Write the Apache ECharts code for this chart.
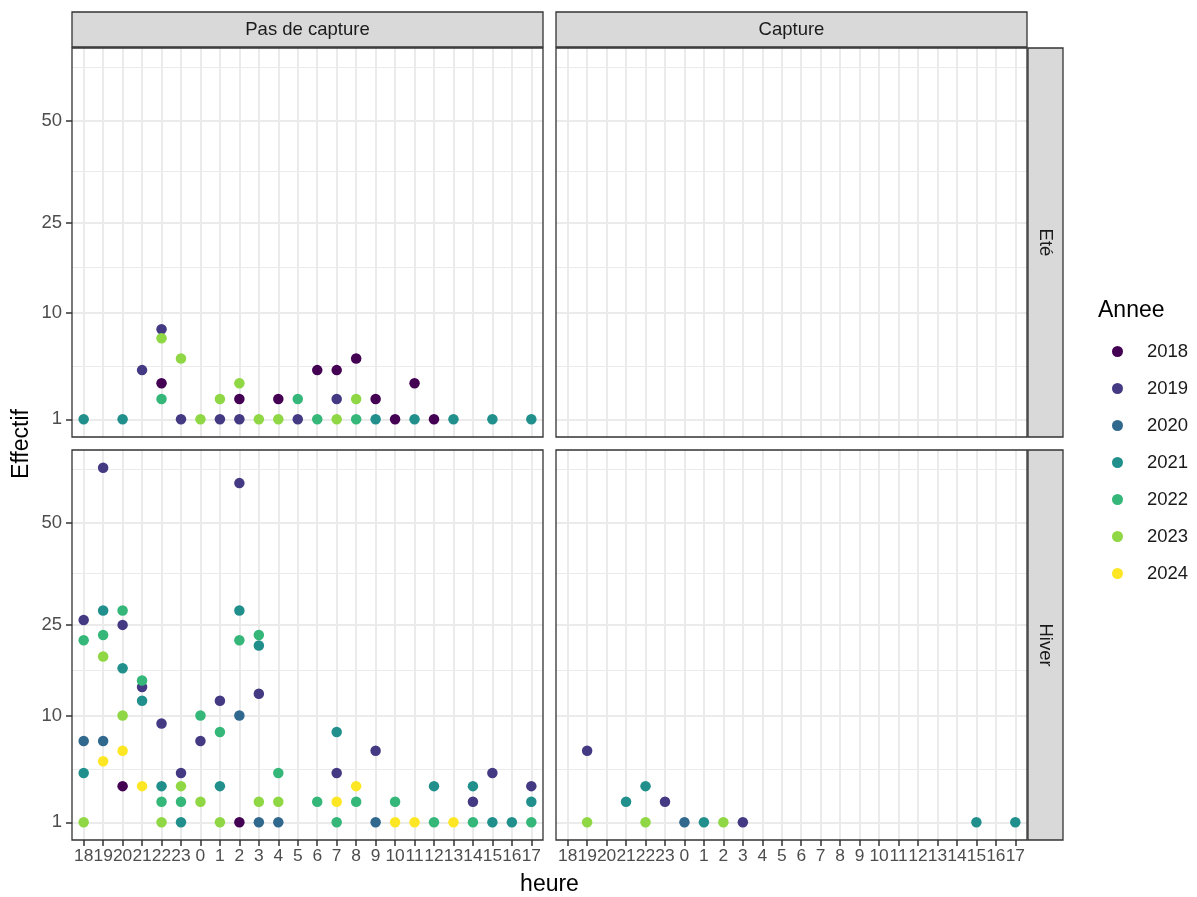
<!DOCTYPE html>
<html>
<head>
<meta charset="utf-8">
<script src="https://cdn.jsdelivr.net/npm/echarts@6/dist/echarts.min.js"></script>
<style>
  html, body { margin: 0; padding: 0; background: #fff; }
  #chart { width: 1197px; height: 897px; }
</style>
</head>
<body>
<div id="chart"></div>
<script>
// Hour categories, in the order they appear along the x axis
const hours = ['18','19','20','21','22','23','0','1','2','3','4','5','6','7','8','9','10','11','12','13','14','15','16','17'];
const years = ['2018','2019','2020','2021','2022','2023','2024'];
const yearColors = ['#440154','#443A83','#31688E','#21908C','#35B779','#8FD744','#FDE725'];
const yBreaks = [1, 10, 25, 50];
const colFacets = ['Pas de capture', 'Capture'];
const rowFacets = ['Eté', 'Hiver'];

// Counts per facet: [heure, annee, effectif]
const eteSansCapture = [
  [18,2021,1],[20,2021,1],[21,2019,4],[22,2019,8],[22,2023,7],[22,2018,3],[22,2022,2],
  [23,2023,5],[23,2019,1],[0,2023,1],[1,2023,2],[1,2019,1],[2,2023,3],[2,2018,2],[2,2019,1],
  [3,2023,1],[4,2018,2],[4,2023,1],[5,2022,2],[5,2019,1],[6,2018,4],[6,2022,1],
  [7,2018,4],[7,2019,2],[7,2023,1],[8,2018,5],[8,2023,2],[8,2022,1],[9,2018,2],[9,2021,1],
  [10,2018,1],[11,2018,3],[11,2021,1],[12,2018,1],[13,2021,1],[15,2021,1],[17,2021,1]
];
const eteCapture = [];
const hiverSansCapture = [
  [18,2019,26],[18,2022,22],[18,2020,7],[18,2021,4],[18,2023,1],
  [19,2019,67],[19,2021,28],[19,2022,23],[19,2023,19],[19,2020,7],[19,2024,5],
  [20,2022,28],[20,2019,25],[20,2021,17],[20,2023,10],[20,2024,6],[20,2018,3],
  [21,2022,15],[21,2019,14],[21,2021,12],[21,2024,3],
  [22,2019,9],[22,2021,3],[22,2022,2],[22,2023,1],
  [23,2019,4],[23,2023,3],[23,2022,2],[23,2021,1],
  [0,2022,10],[0,2019,7],[0,2023,2],
  [1,2019,12],[1,2022,8],[1,2021,3],[1,2023,1],
  [2,2019,62],[2,2021,28],[2,2022,22],[2,2020,10],[2,2018,1],
  [3,2022,23],[3,2021,21],[3,2019,13],[3,2023,2],[3,2020,1],
  [4,2022,4],[4,2023,2],[4,2020,1],
  [6,2022,2],
  [7,2021,8],[7,2019,4],[7,2024,2],[7,2022,1],
  [8,2024,3],[8,2022,2],
  [9,2019,6],[9,2020,1],
  [10,2022,2],[10,2024,1],
  [11,2024,1],
  [12,2021,3],[12,2022,1],
  [13,2024,1],
  [14,2021,3],[14,2019,2],[14,2022,1],
  [15,2019,4],[15,2021,1],
  [16,2021,1],
  [17,2019,3],[17,2021,2],[17,2022,1]
];
const hiverCapture = [
  [19,2019,6],[19,2023,1],[21,2021,2],[22,2021,3],[22,2023,1],[23,2019,2],
  [0,2020,1],[1,2021,1],[2,2023,1],[3,2019,1],[15,2021,1],[17,2021,1]
];

// Panels: row-major (Eté row, then Hiver row)
const panelData = [eteSansCapture, eteCapture, hiverSansCapture, hiverCapture];

// Layout of the facet grid (pixels)
const FONT = 'Liberation Sans, Arial, sans-serif';
const SMALL = 18.5, TITLE = 23, XLAB = 17.4;
const panelLeft = [72, 556];
const panelWidth = 471;
const panelTop = [48, 450];
const panelHeight = [389, 390];
const stripSize = 35;
const stripGap = 1;

// sqrt scale: values are placed on sqrt(effectif), ticks labelled in original units
const sq = v => Math.sqrt(v);
const allVals = panelData.flat().map(d => d[2]);
const sMin = sq(Math.min(...allVals));
const sMax = sq(Math.max(...allVals));
const sPad = 0.05 * (sMax - sMin);
const yLo = sMin - sPad, yHi = sMax + sPad;
const yMajor = yBreaks.map(sq);
// minor lines half-way between majors (transformed space), extended one step beyond
const yMinor = [];
{
  const b = yMajor.slice();
  const bd = b[1] - b[0];
  if (yLo < b[0]) b.unshift(b[0] - bd);
  if (yHi > b[b.length - 1]) b.push(b[b.length - 1] + bd);
  for (let i = 0; i < b.length - 1; i++) {
    const m = (b[i] + b[i + 1]) / 2;
    if (m > yLo && m < yHi) yMinor.push(m);
  }
}
const xPos = hours.map((h, i) => i + 1);
const xLo = 0.4, xHi = hours.length + 0.6;

const grids = [], xAxes = [], yAxes = [], series = [], graphics = [];
const GRID_COLOR = '#EBEBEB';

for (let r = 0; r < 2; r++) {
  for (let c = 0; c < 2; c++) {
    const p = r * 2 + c;
    grids.push({ left: panelLeft[c], top: panelTop[r], width: panelWidth, height: panelHeight[r], containLabel: false });
    const bottomRow = r === 1, leftCol = c === 0;
    xAxes.push({
      type: 'value', gridIndex: p, min: xLo, max: xHi,
      axisLine: { show: false }, splitLine: { show: false },
      axisTick: { show: bottomRow, customValues: xPos, length: 6, lineStyle: { color: '#333333', width: 1.5 } },
      axisLabel: { show: bottomRow, customValues: xPos, formatter: v => hours[Math.round(v) - 1],
        showMinLabel: true, showMaxLabel: true, hideOverlap: false,
        color: '#4D4D4D', fontSize: XLAB, fontFamily: FONT, margin: 8 }
    });
    yAxes.push({
      type: 'value', gridIndex: p, min: yLo, max: yHi,
      axisLine: { show: false }, splitLine: { show: false },
      axisTick: { show: leftCol, customValues: yMajor, length: 6, lineStyle: { color: '#333333', width: 1.5 } },
      axisLabel: { show: leftCol, customValues: yMajor, formatter: v => String(Math.round(v * v)),
        showMinLabel: true, showMaxLabel: true,
        color: '#4D4D4D', fontSize: SMALL, fontFamily: FONT, margin: 10 }
    });
    // panel grid lines
    const lines = [];
    yMinor.forEach(v => lines.push({ yAxis: v, lineStyle: { color: GRID_COLOR, width: 1, type: 'solid' } }));
    yMajor.forEach(v => lines.push({ yAxis: v, lineStyle: { color: GRID_COLOR, width: 2, type: 'solid' } }));
    xPos.forEach(v => lines.push({ xAxis: v, lineStyle: { color: GRID_COLOR, width: 2, type: 'solid' } }));
    series.push({
      type: 'scatter', name: 'grille', xAxisIndex: p, yAxisIndex: p, data: [], z: 1, silent: true,
      markLine: { z: 1, silent: true, symbol: ['none', 'none'], label: { show: false }, animation: false, data: lines }
    });
    // points, one series per year
    years.forEach((y, k) => {
      const pts = panelData[p].filter(d => String(d[1]) === y)
        .map(d => [hours.indexOf(String(d[0])) + 1, sq(d[2]), d[2]]);
      series.push({
        type: 'scatter', name: y, xAxisIndex: p, yAxisIndex: p, data: pts,
        symbol: 'circle', symbolSize: 10.5, z: 10,
        itemStyle: { color: yearColors[k], opacity: 1 }
      });
    });
    // panel border
    graphics.push({ type: 'rect', z: 100, silent: true,
      shape: { x: panelLeft[c], y: panelTop[r], width: panelWidth, height: panelHeight[r] },
      style: { fill: 'none', stroke: '#333333', lineWidth: 1.3 } });
  }
}

// column strips
colFacets.forEach((t, c) => {
  graphics.push({ type: 'rect', z: 100, silent: true,
    shape: { x: panelLeft[c], y: panelTop[0] - stripGap - stripSize, width: panelWidth, height: stripSize },
    style: { fill: '#D9D9D9', stroke: '#333333', lineWidth: 1.3 } });
  graphics.push({ type: 'text', z: 101, silent: true,
    x: panelLeft[c] + panelWidth / 2, y: panelTop[0] - stripGap - stripSize / 2,
    style: { text: t, fill: '#1A1A1A', font: SMALL + 'px ' + FONT, align: 'center', verticalAlign: 'middle' } });
});
// row strips
const stripX = panelLeft[1] + panelWidth + stripGap;
rowFacets.forEach((t, r) => {
  graphics.push({ type: 'rect', z: 100, silent: true,
    shape: { x: stripX, y: panelTop[r], width: stripSize, height: panelHeight[r] },
    style: { fill: '#D9D9D9', stroke: '#333333', lineWidth: 1.3 } });
  graphics.push({ type: 'text', z: 101, silent: true,
    x: stripX + stripSize / 2, y: panelTop[r] + panelHeight[r] / 2, rotation: -Math.PI / 2,
    style: { text: t, fill: '#1A1A1A', font: SMALL + 'px ' + FONT, align: 'center', verticalAlign: 'middle' } });
});
// axis titles
graphics.push({ type: 'text', z: 101, silent: true,
  x: 22, y: (panelTop[0] + panelTop[1] + panelHeight[1]) / 2, rotation: Math.PI / 2,
  style: { text: 'Effectif', fill: '#000', font: TITLE + 'px ' + FONT, align: 'center', verticalAlign: 'middle' } });
graphics.push({ type: 'text', z: 101, silent: true,
  x: (panelLeft[0] + panelLeft[1] + panelWidth) / 2, y: 885,
  style: { text: 'heure', fill: '#000', font: TITLE + 'px ' + FONT, align: 'center', verticalAlign: 'middle' } });
// legend title
graphics.push({ type: 'text', z: 101, silent: true, x: 1098, y: 311,
  style: { text: 'Annee', fill: '#000', font: TITLE + 'px ' + FONT, align: 'left', verticalAlign: 'middle' } });

const chart = echarts.init(document.getElementById('chart'), null, { renderer: 'canvas' });
chart.setOption({
  animation: false,
  backgroundColor: '#ffffff',
  grid: grids,
  xAxis: xAxes,
  yAxis: yAxes,
  legend: {
    data: years.map((y, k) => ({ name: y, icon: 'circle', itemStyle: { color: yearColors[k] } })),
    orient: 'vertical', left: 1107, top: 337,
    itemWidth: 11, itemHeight: 11, itemGap: 18, selectedMode: false,
    textStyle: { fontSize: SMALL, fontFamily: FONT, color: '#1A1A1A', lineHeight: 18, padding: [0, 0, 0, 19] }
  },
  series: series,
  graphic: graphics
});
</script>
</body>
</html>
